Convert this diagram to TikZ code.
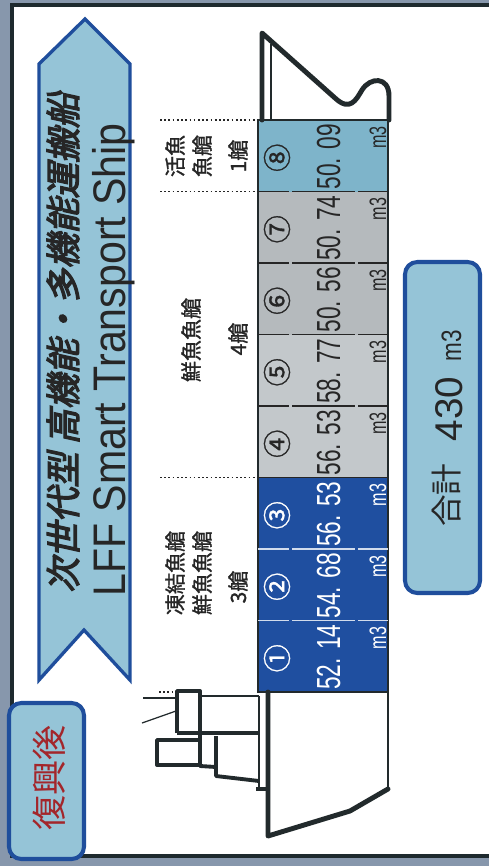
\documentclass[tikz,border=0pt]{standalone}
\usepackage{fontspec}
\usepackage{graphicx}
\setmainfont{Liberation Sans}
\newfontfamily\jp{Noto Sans CJK JP}
\newfontfamily\jpmid[FakeBold=1.2]{Noto Sans CJK JP}
\newfontfamily\jptitle[FakeSlant=0.22,FakeBold=3.5]{Noto Sans CJK JP}
\newcommand\slimtext[1]{\scalebox{0.68}[1]{#1}}

\definecolor{frameblue}{HTML}{8797AC}
\definecolor{framedark}{HTML}{1E2A2E}
\definecolor{bannerfill}{HTML}{95C4D7}
\definecolor{bannerline}{HTML}{1F4E9C}
\definecolor{holdblue}{HTML}{1F4FA0}
\definecolor{holdteal}{HTML}{7EB4CA}
\definecolor{holdgray}{HTML}{B5BABD}
\definecolor{holdlight}{HTML}{C3C8CB}
\definecolor{inkdark}{HTML}{262626}
\definecolor{hullline}{HTML}{222A2C}
\definecolor{stampred}{HTML}{A3262B}

\begin{document}
\begin{tikzpicture}[x=0.02cm,y=-0.02cm,
  vert/.style={rotate=90,inner sep=0pt},
  jplabel/.style={vert,font=\jpmid\fontsize{12}{12}\selectfont,text=inkdark},
  holdno/.style={vert,font=\jpmid\fontsize{16}{16}\selectfont},
  holdvol/.style={vert,anchor=base,font=\fontsize{19}{19}\selectfont},
  holdunit/.style={vert,anchor=base,font=\fontsize{13.5}{13.5}\selectfont},
  onblue/.style={text=white},
  ongray/.style={text=inkdark},
  hull/.style={draw=hullline,line width=2.8pt,line join=round,line cap=round},
  bridge/.style={draw=hullline,line width=2.2pt,line join=round},
  sep/.style={draw=inkdark,line width=0.9pt,dash pattern=on 1pt off 1.4pt},
  badge/.style={draw=bannerline,line width=2.3pt,fill=bannerfill,rounded corners=7pt}]
\useasboundingbox (0,0) rectangle (489,866);

% frame
\fill[frameblue] (0,0) rectangle (489,866);
\fill[white] (12,5) rectangle (489,856);
\draw[framedark,line width=2.4pt] (489,5) -- (12,5) -- (12,856) -- (489,856);

% title ribbon
\draw[bannerline,line width=1.9pt,fill=bannerfill] (39,64) -- (85,19) -- (130,64) -- (130,680) -- (84,630) -- (39,680) -- cycle;
\node[vert,font=\jptitle\fontsize{20}{20}\selectfont,text=inkdark] (titlejp) at (63,343) {次世代型 高機能・多機能運搬船};
\node[vert,anchor=base,font=\fontsize{26}{26}\selectfont,text=inkdark] (titleen) at (125,360) {\scalebox{0.9}[1]{LFF Smart Transport Ship}};

% holds
\fill[holdblue] (258,477.5) rectangle (388,692);
\fill[holdlight] (258,334.5) rectangle (388,477.5);
\fill[holdgray] (258,191.5) rectangle (388,334.5);
\fill[holdteal] (258,120) rectangle (388,191.5);
\draw[hullline,line width=1pt] (258,120) rectangle (388,692);

% hold dividers
\draw[inkdark,line width=1pt] (258,191.5) -- (289,191.5) (292,191.5) -- (355,191.5) (358,191.5) -- (388,191.5);
\draw[inkdark,line width=1pt] (258,263) -- (289,263) (292,263) -- (355,263) (358,263) -- (388,263);
\draw[inkdark,line width=1pt] (258,334.5) -- (289,334.5) (292,334.5) -- (355,334.5) (358,334.5) -- (388,334.5);
\draw[inkdark,line width=1pt] (258,406) -- (289,406) (292,406) -- (355,406) (358,406) -- (388,406);
\draw[inkdark,line width=1pt] (258,477.5) -- (388,477.5);
\draw[white!80!holdblue,line width=1pt] (258,549) -- (289,549) (292,549) -- (355,549) (358,549) -- (388,549);
\draw[white!80!holdblue,line width=1pt] (258,620.5) -- (289,620.5) (292,620.5) -- (355,620.5) (358,620.5) -- (388,620.5);

\node[holdno,onblue] (n1) at (277,658.25) {①};
\node[holdno,onblue] (n2) at (277,586.75) {②};
\node[holdno,onblue] (n3) at (277,515.25) {③};
\node[holdno,ongray] (n4) at (277,443.75) {④};
\node[holdno,ongray] (n5) at (277,372.25) {⑤};
\node[holdno,ongray] (n6) at (277,300.75) {⑥};
\node[holdno,ongray] (n7) at (277,229.25) {⑦};
\node[holdno,ongray] (n8) at (277,157.75) {⑧};

\node[holdvol,onblue] (v1) at (340,657.25) {\slimtext{52. 14}};
\node[holdvol,onblue] (v2) at (340,585.75) {\slimtext{54. 68}};
\node[holdvol,onblue] (v3) at (340,514.25) {\slimtext{56. 53}};
\node[holdvol,ongray] (v4) at (340,442.75) {\slimtext{56. 53}};
\node[holdvol,ongray] (v5) at (340,371.25) {\slimtext{58. 77}};
\node[holdvol,ongray] (v6) at (340,299.75) {\slimtext{50. 56}};
\node[holdvol,ongray] (v7) at (340,228.25) {\slimtext{50. 74}};
\node[holdvol,ongray] (v8) at (340,156.75) {\slimtext{50. 09}};

\node[holdunit,onblue] (u1) at (386,638) {\slimtext{m3}};
\node[holdunit,onblue] (u2) at (386,566.5) {\slimtext{m3}};
\node[holdunit,onblue] (u3) at (386,495) {\slimtext{m3}};
\node[holdunit,ongray] (u4) at (386,423.5) {\slimtext{m3}};
\node[holdunit,ongray] (u5) at (386,352) {\slimtext{m3}};
\node[holdunit,ongray] (u6) at (386,280.5) {\slimtext{m3}};
\node[holdunit,ongray] (u7) at (386,209) {\slimtext{m3}};
\node[holdunit,ongray] (u8) at (386,137.5) {\slimtext{m3}};

% bow
\draw[hull] (262,120) -- (262,33) -- (335,98) .. controls (350,112) and (356,100) .. (362,90) .. controls (370,77) and (389,76) .. (389,96) -- (389,120);
\draw[hullline,line width=1pt] (271,44) -- (271,120);

% stern and bridge
\draw[hull] (268,692) -- (268,836) -- (350,811) -- (388,789);
\draw[hullline,line width=1pt] (388,789) -- (388,692);
\draw[bridge] (177,733) -- (177,691) -- (200,691) -- (200,733);
\draw[bridge] (177,733) -- (259,733);
\draw[hullline,line width=1.5pt] (200,696) -- (259,696);
\draw[bridge] (157,740) rectangle (200,765);
\draw[bridge] (200,733) -- (200,766) -- (216,767);
\draw[bridge] (216,736) -- (216,776) -- (259,781);
\draw[hullline,line width=1.5pt] (259,696) -- (259,787);
\draw[bridge] (256,789) -- (268,789);
\draw[hullline,line width=0.7pt] (143,698) -- (177,698);
\draw[hullline,line width=0.7pt] (142,723) -- (176,711);

% group separators
\draw[sep] (160,120) -- (257,120);
\draw[sep] (160,191.5) -- (257,191.5);
\draw[sep] (160,477.5) -- (257,477.5);
\draw[sep] (159,692) -- (174,692);

% hold groups
\node[jplabel] (livea) at (175,156) {活魚};
\node[jplabel] (liveb) at (202,156) {魚艙};
\node[jplabel] (livec) at (238,156) {1艙};
\node[jplabel] (fresha) at (191,340) {鮮魚魚艙};
\node[jplabel] (freshb) at (238,339) {4艙};
\node[jplabel] (frozena) at (175,573) {凍結魚艙};
\node[jplabel] (frozenb) at (202,573) {鮮魚魚艙};
\node[jplabel] (frozenc) at (238,587) {3艙};

% total
\draw[badge] (405,262) rectangle (480,593);
\node[vert,font=\jp\fontsize{18}{18}\selectfont,text=inkdark] (totlabel) at (447,495) {合計};
\node[vert,anchor=base,font=\fontsize{22}{22}\selectfont,text=inkdark] (totnum) at (462,409) {430};
\node[vert,anchor=base,font=\fontsize{16}{16}\selectfont,text=inkdark] (totunit) at (461,346) {\scalebox{0.8}[1]{m3}};

% after reconstruction
\draw[badge] (9,703) rectangle (84,859);
\node[vert,font=\jp\fontsize{20}{20}\selectfont,text=stampred] (stamp) at (49,778) {復興後};
\end{tikzpicture}
\end{document}
